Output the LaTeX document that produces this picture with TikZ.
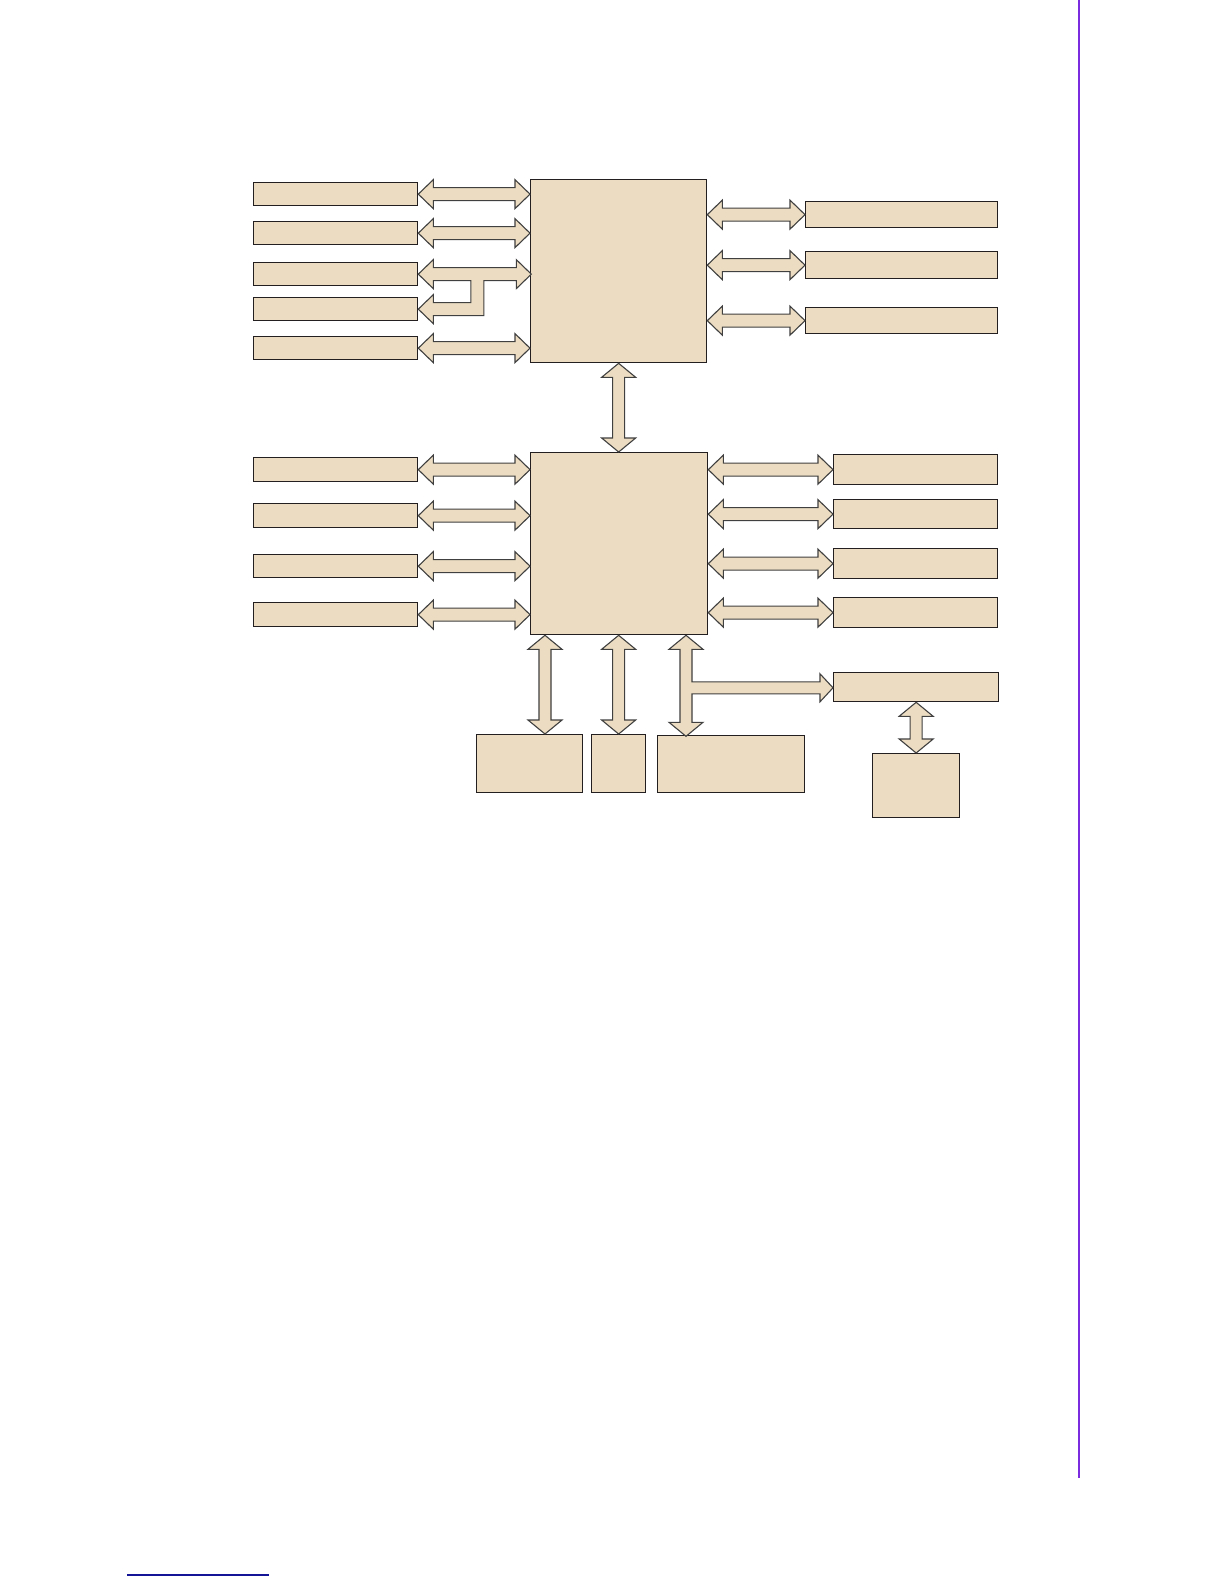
\documentclass[tikz,border=0pt]{standalone}
\usepackage{tikz}
\usetikzlibrary{calc, positioning}
\definecolor{beige}{RGB}{236,221,194}
\definecolor{edge}{RGB}{35,31,32}
\definecolor{rulepurple}{RGB}{122,44,222}
\definecolor{ruleblue}{RGB}{20,20,150}

\begin{document}
\begin{tikzpicture}[x=1bp, y=-1bp,
        blk/.style={draw=edge, fill=beige, line width=1.3bp, rectangle, inner sep=0pt, anchor=north west},
        bar/.style={blk, minimum width=164bp, minimum height=23bp},
        arrowshape/.style={draw=black!75, fill=beige, line width=1.1bp, line join=miter},
        harr/.style={arrowshape, to path={let \p1=(\tikztostart), \p2=(\tikztotarget) in
            (\x1,\y1) -- (\x1+15bp,\y1+14.5bp) -- (\x1+15bp,\y1+6.5bp) -- (\x2-15bp,\y1+6.5bp)
            -- (\x2-15bp,\y1+14.5bp) -- (\x2,\y1) -- (\x2-15bp,\y1-14.5bp) -- (\x2-15bp,\y1-6.5bp)
            -- (\x1+15bp,\y1-6.5bp) -- (\x1+15bp,\y1-14.5bp) -- cycle}},
        varr/.style={arrowshape, to path={let \p1=(\tikztostart), \p2=(\tikztotarget) in
            (\x1,\y1) -- (\x1+17bp,\y1-14bp) -- (\x1+6bp,\y1-14bp) -- (\x1+6bp,\y2+14bp)
            -- (\x1+17bp,\y2+14bp) -- (\x1,\y2) -- (\x1-17bp,\y2+14bp) -- (\x1-6bp,\y2+14bp)
            -- (\x1-6bp,\y1-14bp) -- (\x1-17bp,\y1-14bp) -- cycle}}]
        \fill[white] (0,0) rectangle (1224,1584);
        \useasboundingbox (0,0) rectangle (1224,1584);

        \draw[rulepurple, line width=2.2bp] (1079,0) -- (1079,1478);
        \draw[ruleblue, line width=1.5bp] (127,1575) -- (269,1575);

        \node[blk, minimum width=176bp, minimum height=183bp] (cpu) at (530,179) {};
        \node[blk, minimum width=177bp, minimum height=182bp] (pch) at (530,452) {};

        \node[bar] (lt1) at (253,182) {};
        \node[bar] (lt2) at (253,221) {};
        \node[bar] (lt3) at (253,262) {};
        \node[bar] (lt4) at (253,297) {};
        \node[bar] (lt5) at (253,336) {};

        \node[blk, minimum width=192bp, minimum height=26bp] (rt1) at (805,201) {};
        \node[blk, minimum width=192bp, minimum height=27bp] (rt2) at (805,251) {};
        \node[blk, minimum width=192bp, minimum height=26bp] (rt3) at (805,307) {};

        \node[bar, minimum height=24bp] (lb1) at (253,457) {};
        \node[bar, minimum height=24bp] (lb2) at (253,503) {};
        \node[bar] (lb3) at (253,554) {};
        \node[bar, minimum height=24bp] (lb4) at (253,602) {};

        \node[bar, minimum height=30bp] (rb1) at (833,454) {};
        \node[bar, minimum height=29bp] (rb2) at (833,499) {};
        \node[bar, minimum height=30bp] (rb3) at (833,548) {};
        \node[bar, minimum height=30bp] (rb4) at (833,597) {};
        \node[bar, minimum width=165bp, minimum height=29bp] (sio) at (833,672) {};

        \node[blk, minimum width=106bp, minimum height=58bp] (bt1) at (476,734) {};
        \node[blk, minimum width=54bp, minimum height=58bp] (bt2) at (591,734) {};
        \node[blk, minimum width=147bp, minimum height=57bp] (bt3) at (657,735) {};
        \node[blk, minimum width=87bp, minimum height=64bp] (sioext) at (872,753) {};

        \coordinate (bt1tap) at (545,700);
        \coordinate (bt3tap) at (686,700);

        \draw[harr] (lt1.east) to (cpu.west);
        \draw[harr] (lt2.east) to (cpu.west);
        \draw[harr] (lt5.east) to (cpu.west);
        \draw[harr] (rt1.west -| cpu.east) to (rt1.west);
        \draw[harr] (rt2.west -| cpu.east) to (rt2.west);
        \draw[harr] (rt3.west -| cpu.east) to (rt3.west);

        \draw[arrowshape] (lt3.east) -- ++(15,-14.5) -- ++(0,8) -- ++(83,0) -- ++(0,-8)
            -- ++(15,14.5) -- ++(-15,14.5) -- ++(0,-8) -- ++(-32.5,0) -- ++(0,35)
            -- ++(-50.5,0) -- ++(0,8) -- ++(-15,-14.5) -- ++(15,-14.5) -- ++(0,8)
            -- ++(37.5,0) -- ++(0,-22) -- ++(-37.5,0) -- ++(0,8) -- cycle;

        \draw[varr] (cpu.south) to (pch.north);

        \draw[harr] (lb1.east) to (pch.west);
        \draw[harr] (lb2.east) to (pch.west);
        \draw[harr] (lb3.east) to (pch.west);
        \draw[harr] (lb4.east) to (pch.west);
        \draw[harr] (rb1.west -| pch.east) to (rb1.west);
        \draw[harr] (rb2.west -| pch.east) to (rb2.west);
        \draw[harr] (rb3.west -| pch.east) to (rb3.west);
        \draw[harr] (rb4.west -| pch.east) to (rb4.west);

        \draw[varr] (pch.south -| bt1tap) to (bt1.north -| bt1tap);
        \draw[varr] (pch.south -| bt2.north) to (bt2.north);
        \draw[arrowshape] (pch.south -| bt3tap) -- ++(17,14) -- ++(-11,0) -- ++(0,32.5)
            -- ++(128,0) -- ++(0,-8) -- ++(13,14) -- ++(-13,14) -- ++(0,-8) -- ++(-128,0)
            -- ++(0,28.5) -- ++(11,0) -- ++(-17,14) -- ++(-17,-14) -- ++(11,0)
            -- ++(0,-73) -- ++(-11,0) -- cycle;

        \draw[varr] (sio.south) to (sioext.north);
    \end{tikzpicture}
\end{document}
